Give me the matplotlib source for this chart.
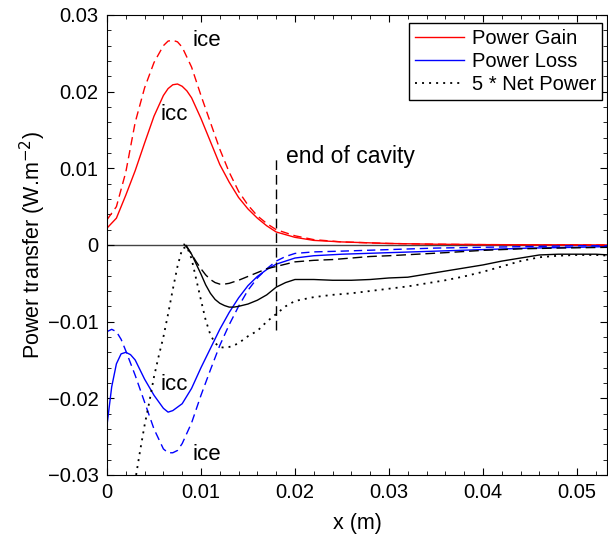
import numpy as np
import matplotlib.pyplot as plt
from matplotlib.ticker import MultipleLocator

plt.rcParams['font.family'] = ['Liberation Sans', 'DejaVu Sans']

# ---- data ----
gain_icc_x = [0, 0.001, 0.002, 0.003, 0.004, 0.005, 0.006, 0.0065, 0.007, 0.0075, 0.008, 0.0085,
              0.009, 0.010, 0.011, 0.012, 0.013, 0.014, 0.015, 0.016, 0.017, 0.018, 0.020, 0.022,
              0.025, 0.03, 0.035, 0.04, 0.045, 0.05, 0.0535]
gain_icc_y = [0.0022, 0.0035, 0.0065, 0.0097, 0.0133, 0.0168, 0.0195, 0.0204, 0.0209, 0.0210,
              0.0207, 0.0201, 0.0192, 0.0165, 0.0135, 0.0105, 0.0082, 0.0062, 0.0047, 0.0035,
              0.0025, 0.0017, 0.0010, 0.0006, 0.0004, 0.0002, 0.0001, 0.00005, 0.00003, 0.00002,
              0.0]

gain_ice_x = [0, 0.001, 0.002, 0.003, 0.004, 0.005, 0.006, 0.0065, 0.007, 0.0075, 0.008, 0.009,
              0.010, 0.011, 0.012, 0.013, 0.014, 0.015, 0.016, 0.017, 0.018, 0.020, 0.022, 0.025,
              0.03, 0.035, 0.04, 0.045, 0.05, 0.0535]
gain_ice_y = [0.0033, 0.0050, 0.0095, 0.0160, 0.0205, 0.0238, 0.0260, 0.0266, 0.0267, 0.0265,
              0.0258, 0.0232, 0.0195, 0.0160, 0.0125, 0.0095, 0.0070, 0.0052, 0.0038, 0.0028,
              0.0020, 0.0012, 0.0007, 0.0004, 0.0002, 0.0001, 0.00005, 0.00003, 0.00002, 0.0]

loss_icc_x = [0, 0.0005, 0.001, 0.0015, 0.002, 0.0025, 0.003, 0.004, 0.005, 0.006, 0.0065, 0.007,
              0.008, 0.009, 0.010, 0.011, 0.012, 0.013, 0.014, 0.015, 0.016, 0.017, 0.018, 0.019,
              0.020, 0.022, 0.025, 0.03, 0.035, 0.04, 0.045, 0.05, 0.0535]
loss_icc_y = [-0.0235, -0.0185, -0.0155, -0.0142, -0.0140, -0.0143, -0.0150, -0.0175, -0.0196,
              -0.0213, -0.0218, -0.0216, -0.0207, -0.0187, -0.0160, -0.0135, -0.0110, -0.0088,
              -0.0069, -0.0053, -0.0041, -0.0032, -0.0025, -0.0021, -0.0017, -0.0014, -0.0012,
              -0.0010, -0.0008, -0.0006, -0.0004, -0.0003, -0.0002]

loss_ice_x = [0, 0.0005, 0.001, 0.0015, 0.002, 0.003, 0.004, 0.005, 0.006, 0.0065, 0.007, 0.0075,
              0.008, 0.009, 0.010, 0.011, 0.012, 0.013, 0.014, 0.015, 0.016, 0.017, 0.018, 0.019,
              0.020, 0.022, 0.025, 0.03, 0.035, 0.04, 0.045, 0.05, 0.0535]
loss_ice_y = [-0.0113, -0.0110, -0.0113, -0.0123, -0.0138, -0.0170, -0.0205, -0.0240, -0.0266,
              -0.0271, -0.0271, -0.0268, -0.0259, -0.0232, -0.0196, -0.0163, -0.0131, -0.0104,
              -0.0080, -0.0059, -0.0043, -0.0031, -0.0021, -0.0015, -0.0011, -0.0009, -0.0008,
              -0.0006, -0.0004, -0.0003, -0.0002, -0.0001, -0.0001]

net_icc_x = [0.0082, 0.0085, 0.009, 0.0095, 0.010, 0.0105, 0.011, 0.0115, 0.012, 0.0125, 0.013,
             0.0135, 0.014, 0.015, 0.016, 0.017, 0.018, 0.019, 0.020, 0.022, 0.024, 0.026, 0.028,
             0.030, 0.032, 0.034, 0.036, 0.038, 0.040, 0.042, 0.044, 0.046, 0.048, 0.050, 0.052,
             0.0535]
net_icc_y = [0.0001, -0.0003, -0.0012, -0.0025, -0.0038, -0.0052, -0.0063, -0.0071, -0.0076,
             -0.0079, -0.0081, -0.0081, -0.0080, -0.0077, -0.0072, -0.0065, -0.0055, -0.0049,
             -0.0045, -0.0045, -0.0046, -0.0046, -0.0045, -0.0043, -0.0042, -0.0038, -0.0034,
             -0.0030, -0.0026, -0.0021, -0.0017, -0.0013, -0.0012, -0.0012, -0.0012, -0.0013]

net_ice_x = [0.0084, 0.009, 0.0095, 0.010, 0.0105, 0.011, 0.0115, 0.012, 0.0125, 0.013, 0.0135,
             0.014, 0.015, 0.016, 0.017, 0.018, 0.019, 0.020, 0.022, 0.024, 0.026, 0.028, 0.030,
             0.033, 0.036, 0.040, 0.044, 0.048, 0.0535]
net_ice_y = [0.0, -0.0012, -0.0022, -0.0031, -0.0039, -0.0045, -0.0049, -0.0051, -0.0051, -0.0050,
             -0.0048, -0.0046, -0.0041, -0.0036, -0.0031, -0.0028, -0.0025, -0.0022, -0.0020,
             -0.0019, -0.0017, -0.0015, -0.0014, -0.0012, -0.0010, -0.0007, -0.0005, -0.0004,
             -0.0003]

net5_x = [0.0031, 0.0035, 0.004, 0.0045, 0.005, 0.0055, 0.006, 0.0065, 0.007, 0.0075, 0.008,
          0.0085, 0.009, 0.0095, 0.010, 0.0105, 0.011, 0.0115, 0.012, 0.0125, 0.013, 0.0135,
          0.014, 0.015, 0.016, 0.017, 0.018, 0.019, 0.020, 0.022, 0.024, 0.026, 0.028, 0.030,
          0.032, 0.034, 0.036, 0.038, 0.040, 0.042, 0.044, 0.046, 0.048, 0.050, 0.052, 0.0535]
net5_y = [-0.0300, -0.0270, -0.0235, -0.0205, -0.0172, -0.0145, -0.0120, -0.0090, -0.0058,
          -0.0028, -0.0005, -0.0002, -0.0018, -0.0045, -0.0072, -0.0098, -0.0117, -0.0128,
          -0.0133, -0.0134, -0.0133, -0.0131, -0.0128, -0.0119, -0.0112, -0.0100, -0.0090,
          -0.0080, -0.0073, -0.0068, -0.0065, -0.0063, -0.0060, -0.0057, -0.0054, -0.0050,
          -0.0046, -0.0041, -0.0035, -0.0028, -0.0021, -0.0016, -0.0014, -0.0013, -0.0013,
          -0.0014]

cavity_end = 0.018
legend_labels = ['Power Gain', 'Power Loss', '5 * Net Power']
xticks = [0, 0.01, 0.02, 0.03, 0.04, 0.05]
yticks = [-0.03, -0.02, -0.01, 0, 0.01, 0.02, 0.03]

fig = plt.figure(figsize=(6.08, 5.38), dpi=100)
ax = fig.add_axes([107/608, 63/538, 500/608, 460/538])

ax.axhline(0, color='#444444', lw=1.0, zorder=1)

dash = (0, (6, 3.5))
l1, = ax.plot(gain_icc_x, gain_icc_y, color='red', lw=1.0)
ax.plot(gain_ice_x, gain_ice_y, color='red', lw=1.0, linestyle=dash)
l2, = ax.plot(loss_icc_x, loss_icc_y, color='blue', lw=1.0)
ax.plot(loss_ice_x, loss_ice_y, color='blue', lw=1.0, linestyle=dash)
ax.plot(net_icc_x, net_icc_y, color='black', lw=1.0)
ax.plot(net_ice_x, net_ice_y, color='black', lw=1.0, linestyle=(0, (7, 3.5)))
l3, = ax.plot(net5_x, net5_y, color='black', lw=1.3, linestyle=(0, (1.1, 2.8)))

ax.plot([cavity_end, cavity_end], [-0.0111, 0.0113], color='black', lw=1.0,
        linestyle=(0, (7, 3.5)))
ax.text(0.01904, 0.0107, 'end of cavity', fontsize=16.5, va='baseline', ha='left')

ax.text(0.00915, 0.0259, 'ice', fontsize=16, va='baseline')
ax.text(0.00564, 0.0163, 'icc', fontsize=16, va='baseline')
ax.text(0.00564, -0.0189, 'icc', fontsize=16, va='baseline')
ax.text(0.00915, -0.0280, 'ice', fontsize=16, va='baseline')

ax.set_xlim(0, 0.0532)
ax.set_ylim(-0.03, 0.03)
ax.set_xticks(xticks)
ax.set_xticklabels(['0', '0.01', '0.02', '0.03', '0.04', '0.05'])
ax.set_yticks(yticks)
ax.set_yticklabels(['\u22120.03', '\u22120.02', '\u22120.01', '0', '0.01', '0.02', '0.03'])
ax.xaxis.set_minor_locator(MultipleLocator(0.002))
ax.yaxis.set_minor_locator(MultipleLocator(0.002))
ax.tick_params(which='both', direction='in', top=True, right=True, labelsize=14.5)
ax.tick_params(which='major', length=5)
ax.tick_params(which='minor', length=3)
ax.tick_params(axis='x', pad=6)
ax.tick_params(axis='y', pad=6)

ax.set_xlabel('x (m)', fontsize=15.5, labelpad=8)
ax.set_ylabel('Power transfer (W.m$^{-2}$)', fontsize=15.5, labelpad=0)

leg = ax.legend([l1, l2, l3], legend_labels, loc='upper right', bbox_to_anchor=(0.99, 0.983),
                borderaxespad=0, fancybox=False, edgecolor='black', framealpha=1,
                fontsize=14.5, handlelength=2.4, handletextpad=0.4, borderpad=0.3,
                labelspacing=0.2)
leg.get_frame().set_linewidth(1.0)

fig.savefig('out.png', dpi=100)
